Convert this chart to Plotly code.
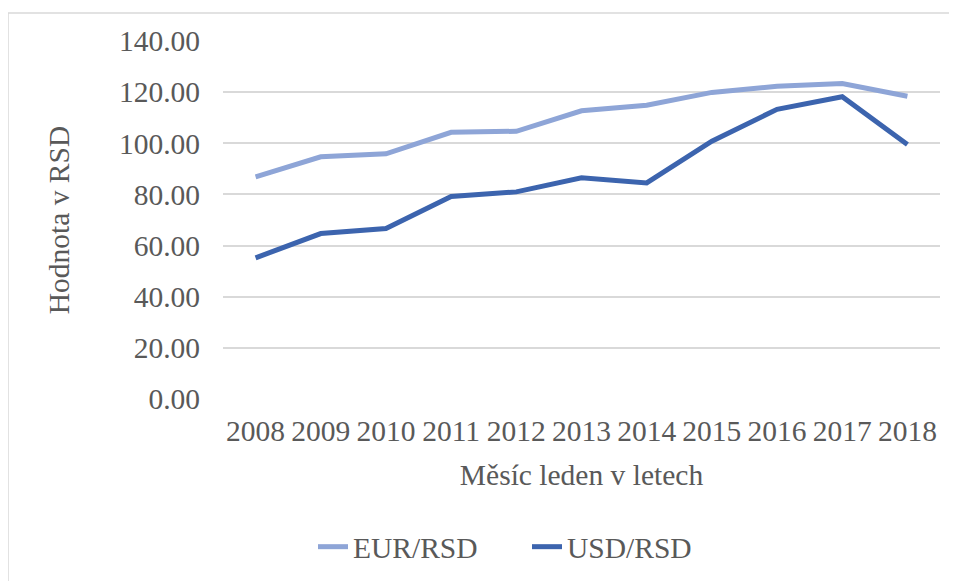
import plotly.graph_objects as go

years = ["2008", "2009", "2010", "2011", "2012", "2013", "2014", "2015", "2016", "2017", "2018"]
eur_rsd = [86.9, 94.7, 95.9, 104.3, 104.7, 112.7, 114.9, 119.9, 122.3, 123.4, 118.4]
usd_rsd = [55.2, 64.7, 66.7, 79.2, 81.0, 86.5, 84.5, 100.8, 113.3, 118.2, 99.5]
y_ticks = [0, 20, 40, 60, 80, 100, 120, 140]

FONT = "Liberation Serif"
FS = 29.5
TXT = "#595959"
GRID = "#D9D9D9"

fig = go.Figure()
fig.add_trace(go.Scatter(x=years, y=eur_rsd, mode="lines", name="EUR/RSD",
                         line=dict(color="#8EA5D7", width=5)))
fig.add_trace(go.Scatter(x=years, y=usd_rsd, mode="lines", name="USD/RSD",
                         line=dict(color="#3C64AE", width=5)))

OFF = 8  # page body margin
W, H = 957 - OFF, 581 - OFF
L, R, T, B = 223 - OFF, 17, 41 - OFF, 182
pw, ph = W - L - R, H - T - B

def px_x(p):
    return (p - OFF - L) / pw

def px_y(p):
    return (H - B - (p - OFF)) / ph

fig.update_layout(
    width=W, height=H,
    margin=dict(l=L, r=R, t=T, b=B, autoexpand=False),
    paper_bgcolor="white", plot_bgcolor="white",
    font=dict(family=FONT, size=FS, color=TXT),
    showlegend=True,
    legend=dict(orientation="h", x=px_x(313), xanchor="left",
                y=px_y(547), yanchor="middle", entrywidth=169,
                font=dict(family=FONT, size=FS, color=TXT),
                bgcolor="rgba(0,0,0,0)"),
    xaxis=dict(type="category", range=[-0.5, 10.5], showgrid=False,
               showline=False, zeroline=False, ticks="",
               ticklabelstandoff=11,
               tickfont=dict(family=FONT, size=FS, color=TXT),
               title=dict(text="Měsíc leden v letech", standoff=18,
                          font=dict(family=FONT, size=FS, color=TXT))),
    yaxis=dict(range=[0, 140], tickvals=y_ticks,
               ticktext=[f"{v:.2f}" for v in y_ticks],
               showgrid=True, gridcolor=GRID, gridwidth=1.5,
               zeroline=False, showline=False, ticks="",
               ticklabelstandoff=22,
               tickfont=dict(family=FONT, size=FS, color=TXT),
               title=dict(text="Hodnota v RSD", standoff=40,
                          font=dict(family=FONT, size=FS, color=TXT))),
    shapes=[dict(type="rect", xref="paper", yref="paper",
                 x0=px_x(8), x1=px_x(975), y0=px_y(600), y1=px_y(13),
                 line=dict(color=GRID, width=1.5), fillcolor="rgba(0,0,0,0)",
                 layer="below")],
)

fig.write_html("out.html")
